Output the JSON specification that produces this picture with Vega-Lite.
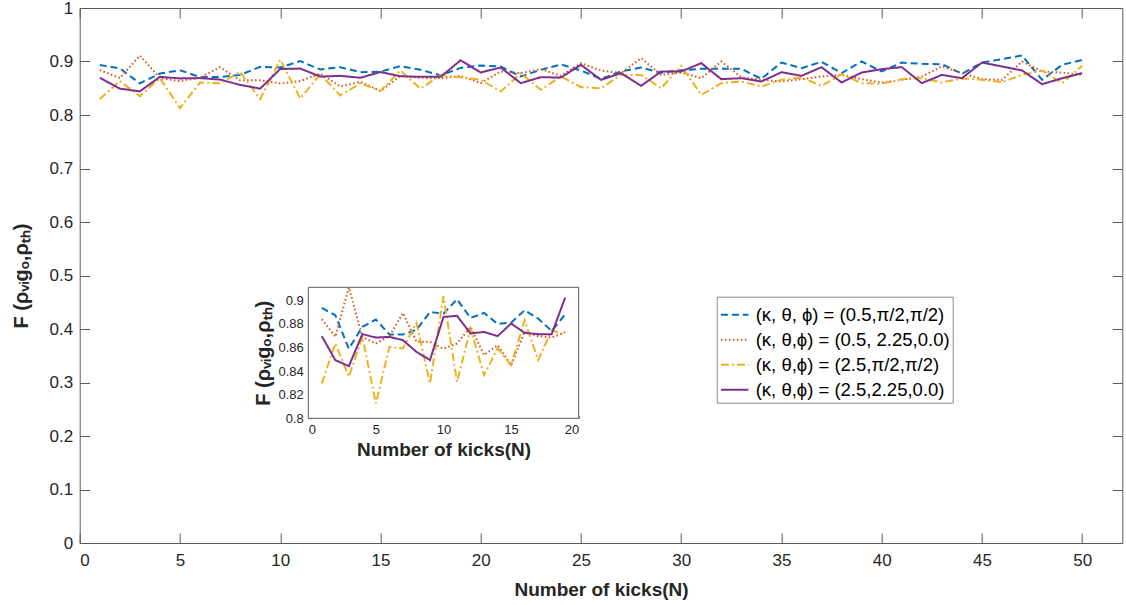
{
  "$schema": "https://vega.github.io/schema/vega-lite/v6.json",
  "width": 1042.6,
  "height": 535,
  "autosize": {"type": "none"},
  "padding": {"left": 79.7, "top": 8, "right": 3.7, "bottom": 62},
  "config": {
    "font": "Liberation Sans",
    "view": {"stroke": "#5a5a5a", "strokeWidth": 1},
    "axis": {"labelColor": "#262626", "titleColor": "#262626", "domainColor": "#5a5a5a", "tickColor": "#5a5a5a", "grid": false, "labelFont": "Liberation Sans", "titleFont": "Liberation Sans"}
  },
  "datasets": {
    "fid": [
      {"N":1,"s":"(κ, θ, ϕ) = (0.5,π/2,π/2)","F":0.8935},{"N":2,"s":"(κ, θ, ϕ) = (0.5,π/2,π/2)","F":0.8873},{"N":3,"s":"(κ, θ, ϕ) = (0.5,π/2,π/2)","F":0.859},{"N":4,"s":"(κ, θ, ϕ) = (0.5,π/2,π/2)","F":0.8775},{"N":5,"s":"(κ, θ, ϕ) = (0.5,π/2,π/2)","F":0.8837},{"N":6,"s":"(κ, θ, ϕ) = (0.5,π/2,π/2)","F":0.871},{"N":7,"s":"(κ, θ, ϕ) = (0.5,π/2,π/2)","F":0.871},{"N":8,"s":"(κ, θ, ϕ) = (0.5,π/2,π/2)","F":0.875},{"N":9,"s":"(κ, θ, ϕ) = (0.5,π/2,π/2)","F":0.89},{"N":10,"s":"(κ, θ, ϕ) = (0.5,π/2,π/2)","F":0.8887},
      {"N":11,"s":"(κ, θ, ϕ) = (0.5,π/2,π/2)","F":0.9008},{"N":12,"s":"(κ, θ, ϕ) = (0.5,π/2,π/2)","F":0.885},{"N":13,"s":"(κ, θ, ϕ) = (0.5,π/2,π/2)","F":0.8893},{"N":14,"s":"(κ, θ, ϕ) = (0.5,π/2,π/2)","F":0.88},{"N":15,"s":"(κ, θ, ϕ) = (0.5,π/2,π/2)","F":0.881},{"N":16,"s":"(κ, θ, ϕ) = (0.5,π/2,π/2)","F":0.8915},{"N":17,"s":"(κ, θ, ϕ) = (0.5,π/2,π/2)","F":0.8845},{"N":18,"s":"(κ, θ, ϕ) = (0.5,π/2,π/2)","F":0.874},{"N":19,"s":"(κ, θ, ϕ) = (0.5,π/2,π/2)","F":0.888},{"N":20,"s":"(κ, θ, ϕ) = (0.5,π/2,π/2)","F":0.8925},
      {"N":21,"s":"(κ, θ, ϕ) = (0.5,π/2,π/2)","F":0.8907},{"N":22,"s":"(κ, θ, ϕ) = (0.5,π/2,π/2)","F":0.872},{"N":23,"s":"(κ, θ, ϕ) = (0.5,π/2,π/2)","F":0.8844},{"N":24,"s":"(κ, θ, ϕ) = (0.5,π/2,π/2)","F":0.8944},{"N":25,"s":"(κ, θ, ϕ) = (0.5,π/2,π/2)","F":0.8832},{"N":26,"s":"(κ, θ, ϕ) = (0.5,π/2,π/2)","F":0.8676},{"N":27,"s":"(κ, θ, ϕ) = (0.5,π/2,π/2)","F":0.8813},{"N":28,"s":"(κ, θ, ϕ) = (0.5,π/2,π/2)","F":0.8888},{"N":29,"s":"(κ, θ, ϕ) = (0.5,π/2,π/2)","F":0.879},{"N":30,"s":"(κ, θ, ϕ) = (0.5,π/2,π/2)","F":0.8838},
      {"N":31,"s":"(κ, θ, ϕ) = (0.5,π/2,π/2)","F":0.8863},{"N":32,"s":"(κ, θ, ϕ) = (0.5,π/2,π/2)","F":0.8863},{"N":33,"s":"(κ, θ, ϕ) = (0.5,π/2,π/2)","F":0.8863},{"N":34,"s":"(κ, θ, ϕ) = (0.5,π/2,π/2)","F":0.8676},{"N":35,"s":"(κ, θ, ϕ) = (0.5,π/2,π/2)","F":0.898},{"N":36,"s":"(κ, θ, ϕ) = (0.5,π/2,π/2)","F":0.8875},{"N":37,"s":"(κ, θ, ϕ) = (0.5,π/2,π/2)","F":0.8994},{"N":38,"s":"(κ, θ, ϕ) = (0.5,π/2,π/2)","F":0.8782},{"N":39,"s":"(κ, θ, ϕ) = (0.5,π/2,π/2)","F":0.9},{"N":40,"s":"(κ, θ, ϕ) = (0.5,π/2,π/2)","F":0.8813},
      {"N":41,"s":"(κ, θ, ϕ) = (0.5,π/2,π/2)","F":0.898},{"N":42,"s":"(κ, θ, ϕ) = (0.5,π/2,π/2)","F":0.8956},{"N":43,"s":"(κ, θ, ϕ) = (0.5,π/2,π/2)","F":0.895},{"N":44,"s":"(κ, θ, ϕ) = (0.5,π/2,π/2)","F":0.877},{"N":45,"s":"(κ, θ, ϕ) = (0.5,π/2,π/2)","F":0.898},{"N":46,"s":"(κ, θ, ϕ) = (0.5,π/2,π/2)","F":0.9044},{"N":47,"s":"(κ, θ, ϕ) = (0.5,π/2,π/2)","F":0.9112},{"N":48,"s":"(κ, θ, ϕ) = (0.5,π/2,π/2)","F":0.8657},{"N":49,"s":"(κ, θ, ϕ) = (0.5,π/2,π/2)","F":0.8938},{"N":50,"s":"(κ, θ, ϕ) = (0.5,π/2,π/2)","F":0.903},

      {"N":1,"s":"(κ, θ,ϕ) = (0.5, 2.25,0.0)","F":0.884},{"N":2,"s":"(κ, θ,ϕ) = (0.5, 2.25,0.0)","F":0.869},{"N":3,"s":"(κ, θ,ϕ) = (0.5, 2.25,0.0)","F":0.911},{"N":4,"s":"(κ, θ,ϕ) = (0.5, 2.25,0.0)","F":0.869},{"N":5,"s":"(κ, θ,ϕ) = (0.5, 2.25,0.0)","F":0.8634},{"N":6,"s":"(κ, θ,ϕ) = (0.5, 2.25,0.0)","F":0.8696},{"N":7,"s":"(κ, θ,ϕ) = (0.5, 2.25,0.0)","F":0.8893},{"N":8,"s":"(κ, θ,ϕ) = (0.5, 2.25,0.0)","F":0.8648},{"N":9,"s":"(κ, θ,ϕ) = (0.5, 2.25,0.0)","F":0.8648},{"N":10,"s":"(κ, θ,ϕ) = (0.5, 2.25,0.0)","F":0.859},
      {"N":11,"s":"(κ, θ,ϕ) = (0.5, 2.25,0.0)","F":0.8634},{"N":12,"s":"(κ, θ,ϕ) = (0.5, 2.25,0.0)","F":0.8775},{"N":13,"s":"(κ, θ,ϕ) = (0.5, 2.25,0.0)","F":0.8535},{"N":14,"s":"(κ, θ,ϕ) = (0.5, 2.25,0.0)","F":0.862},{"N":15,"s":"(κ, θ,ϕ) = (0.5, 2.25,0.0)","F":0.845},{"N":16,"s":"(κ, θ,ϕ) = (0.5, 2.25,0.0)","F":0.8732},{"N":17,"s":"(κ, θ,ϕ) = (0.5, 2.25,0.0)","F":0.8696},{"N":18,"s":"(κ, θ,ϕ) = (0.5, 2.25,0.0)","F":0.8685},{"N":19,"s":"(κ, θ,ϕ) = (0.5, 2.25,0.0)","F":0.873},{"N":20,"s":"(κ, θ,ϕ) = (0.5, 2.25,0.0)","F":0.8595},
      {"N":21,"s":"(κ, θ,ϕ) = (0.5, 2.25,0.0)","F":0.8813},{"N":22,"s":"(κ, θ,ϕ) = (0.5, 2.25,0.0)","F":0.8782},{"N":23,"s":"(κ, θ,ϕ) = (0.5, 2.25,0.0)","F":0.8857},{"N":24,"s":"(κ, θ,ϕ) = (0.5, 2.25,0.0)","F":0.8732},{"N":25,"s":"(κ, θ,ϕ) = (0.5, 2.25,0.0)","F":0.8969},{"N":26,"s":"(κ, θ,ϕ) = (0.5, 2.25,0.0)","F":0.883},{"N":27,"s":"(κ, θ,ϕ) = (0.5, 2.25,0.0)","F":0.8782},{"N":28,"s":"(κ, θ,ϕ) = (0.5, 2.25,0.0)","F":0.9062},{"N":29,"s":"(κ, θ,ϕ) = (0.5, 2.25,0.0)","F":0.875},{"N":30,"s":"(κ, θ,ϕ) = (0.5, 2.25,0.0)","F":0.8794},
      {"N":31,"s":"(κ, θ,ϕ) = (0.5, 2.25,0.0)","F":0.8688},{"N":32,"s":"(κ, θ,ϕ) = (0.5, 2.25,0.0)","F":0.9},{"N":33,"s":"(κ, θ,ϕ) = (0.5, 2.25,0.0)","F":0.8707},{"N":34,"s":"(κ, θ,ϕ) = (0.5, 2.25,0.0)","F":0.8657},{"N":35,"s":"(κ, θ,ϕ) = (0.5, 2.25,0.0)","F":0.8626},{"N":36,"s":"(κ, θ,ϕ) = (0.5, 2.25,0.0)","F":0.867},{"N":37,"s":"(κ, θ,ϕ) = (0.5, 2.25,0.0)","F":0.872},{"N":38,"s":"(κ, θ,ϕ) = (0.5, 2.25,0.0)","F":0.875},{"N":39,"s":"(κ, θ,ϕ) = (0.5, 2.25,0.0)","F":0.867},{"N":40,"s":"(κ, θ,ϕ) = (0.5, 2.25,0.0)","F":0.8607},
      {"N":41,"s":"(κ, θ,ϕ) = (0.5, 2.25,0.0)","F":0.8657},{"N":42,"s":"(κ, θ,ϕ) = (0.5, 2.25,0.0)","F":0.872},{"N":43,"s":"(κ, θ,ϕ) = (0.5, 2.25,0.0)","F":0.8907},{"N":44,"s":"(κ, θ,ϕ) = (0.5, 2.25,0.0)","F":0.8782},{"N":45,"s":"(κ, θ,ϕ) = (0.5, 2.25,0.0)","F":0.867},{"N":46,"s":"(κ, θ,ϕ) = (0.5, 2.25,0.0)","F":0.8657},{"N":47,"s":"(κ, θ,ϕ) = (0.5, 2.25,0.0)","F":0.9},{"N":48,"s":"(κ, θ,ϕ) = (0.5, 2.25,0.0)","F":0.8813},{"N":49,"s":"(κ, θ,ϕ) = (0.5, 2.25,0.0)","F":0.8794},{"N":50,"s":"(κ, θ,ϕ) = (0.5, 2.25,0.0)","F":0.875},

      {"N":1,"s":"(κ, θ,ϕ) = (2.5,π/2,π/2)","F":0.8296},{"N":2,"s":"(κ, θ,ϕ) = (2.5,π/2,π/2)","F":0.8634},{"N":3,"s":"(κ, θ,ϕ) = (2.5,π/2,π/2)","F":0.8352},{"N":4,"s":"(κ, θ,ϕ) = (2.5,π/2,π/2)","F":0.869},{"N":5,"s":"(κ, θ,ϕ) = (2.5,π/2,π/2)","F":0.8127},{"N":6,"s":"(κ, θ,ϕ) = (2.5,π/2,π/2)","F":0.8606},{"N":7,"s":"(κ, θ,ϕ) = (2.5,π/2,π/2)","F":0.8592},{"N":8,"s":"(κ, θ,ϕ) = (2.5,π/2,π/2)","F":0.8808},{"N":9,"s":"(κ, θ,ϕ) = (2.5,π/2,π/2)","F":0.8296},{"N":10,"s":"(κ, θ,ϕ) = (2.5,π/2,π/2)","F":0.9034},
      {"N":11,"s":"(κ, θ,ϕ) = (2.5,π/2,π/2)","F":0.831},{"N":12,"s":"(κ, θ,ϕ) = (2.5,π/2,π/2)","F":0.876},{"N":13,"s":"(κ, θ,ϕ) = (2.5,π/2,π/2)","F":0.8366},{"N":14,"s":"(κ, θ,ϕ) = (2.5,π/2,π/2)","F":0.8592},{"N":15,"s":"(κ, θ,ϕ) = (2.5,π/2,π/2)","F":0.845},{"N":16,"s":"(κ, θ,ϕ) = (2.5,π/2,π/2)","F":0.883},{"N":17,"s":"(κ, θ,ϕ) = (2.5,π/2,π/2)","F":0.8493},{"N":18,"s":"(κ, θ,ϕ) = (2.5,π/2,π/2)","F":0.8746},{"N":19,"s":"(κ, θ,ϕ) = (2.5,π/2,π/2)","F":0.8704},{"N":20,"s":"(κ, θ,ϕ) = (2.5,π/2,π/2)","F":0.8657},
      {"N":21,"s":"(κ, θ,ϕ) = (2.5,π/2,π/2)","F":0.844},{"N":22,"s":"(κ, θ,ϕ) = (2.5,π/2,π/2)","F":0.878},{"N":23,"s":"(κ, θ,ϕ) = (2.5,π/2,π/2)","F":0.847},{"N":24,"s":"(κ, θ,ϕ) = (2.5,π/2,π/2)","F":0.872},{"N":25,"s":"(κ, θ,ϕ) = (2.5,π/2,π/2)","F":0.852},{"N":26,"s":"(κ, θ,ϕ) = (2.5,π/2,π/2)","F":0.85},{"N":27,"s":"(κ, θ,ϕ) = (2.5,π/2,π/2)","F":0.875},{"N":28,"s":"(κ, θ,ϕ) = (2.5,π/2,π/2)","F":0.875},{"N":29,"s":"(κ, θ,ϕ) = (2.5,π/2,π/2)","F":0.85},{"N":30,"s":"(κ, θ,ϕ) = (2.5,π/2,π/2)","F":0.892},
      {"N":31,"s":"(κ, θ,ϕ) = (2.5,π/2,π/2)","F":0.8377},{"N":32,"s":"(κ, θ,ϕ) = (2.5,π/2,π/2)","F":0.8595},{"N":33,"s":"(κ, θ,ϕ) = (2.5,π/2,π/2)","F":0.8626},{"N":34,"s":"(κ, θ,ϕ) = (2.5,π/2,π/2)","F":0.8533},{"N":35,"s":"(κ, θ,ϕ) = (2.5,π/2,π/2)","F":0.8657},{"N":36,"s":"(κ, θ,ϕ) = (2.5,π/2,π/2)","F":0.87},{"N":37,"s":"(κ, θ,ϕ) = (2.5,π/2,π/2)","F":0.8545},{"N":38,"s":"(κ, θ,ϕ) = (2.5,π/2,π/2)","F":0.8763},{"N":39,"s":"(κ, θ,ϕ) = (2.5,π/2,π/2)","F":0.8595},{"N":40,"s":"(κ, θ,ϕ) = (2.5,π/2,π/2)","F":0.8583},
      {"N":41,"s":"(κ, θ,ϕ) = (2.5,π/2,π/2)","F":0.867},{"N":42,"s":"(κ, θ,ϕ) = (2.5,π/2,π/2)","F":0.8688},{"N":43,"s":"(κ, θ,ϕ) = (2.5,π/2,π/2)","F":0.8607},{"N":44,"s":"(κ, θ,ϕ) = (2.5,π/2,π/2)","F":0.8682},{"N":45,"s":"(κ, θ,ϕ) = (2.5,π/2,π/2)","F":0.8657},{"N":46,"s":"(κ, θ,ϕ) = (2.5,π/2,π/2)","F":0.8614},{"N":47,"s":"(κ, θ,ϕ) = (2.5,π/2,π/2)","F":0.875},{"N":48,"s":"(κ, θ,ϕ) = (2.5,π/2,π/2)","F":0.8832},{"N":49,"s":"(κ, θ,ϕ) = (2.5,π/2,π/2)","F":0.8595},{"N":50,"s":"(κ, θ,ϕ) = (2.5,π/2,π/2)","F":0.892},

      {"N":1,"s":"(κ, θ,ϕ) = (2.5,2.25,0.0)","F":0.8696},{"N":2,"s":"(κ, θ,ϕ) = (2.5,2.25,0.0)","F":0.8493},{"N":3,"s":"(κ, θ,ϕ) = (2.5,2.25,0.0)","F":0.8442},{"N":4,"s":"(κ, θ,ϕ) = (2.5,2.25,0.0)","F":0.8713},{"N":5,"s":"(κ, θ,ϕ) = (2.5,2.25,0.0)","F":0.8684},{"N":6,"s":"(κ, θ,ϕ) = (2.5,2.25,0.0)","F":0.869},{"N":7,"s":"(κ, θ,ϕ) = (2.5,2.25,0.0)","F":0.8662},{"N":8,"s":"(κ, θ,ϕ) = (2.5,2.25,0.0)","F":0.8563},{"N":9,"s":"(κ, θ,ϕ) = (2.5,2.25,0.0)","F":0.8493},{"N":10,"s":"(κ, θ,ϕ) = (2.5,2.25,0.0)","F":0.8859},
      {"N":11,"s":"(κ, θ,ϕ) = (2.5,2.25,0.0)","F":0.8868},{"N":12,"s":"(κ, θ,ϕ) = (2.5,2.25,0.0)","F":0.8718},{"N":13,"s":"(κ, θ,ϕ) = (2.5,2.25,0.0)","F":0.8732},{"N":14,"s":"(κ, θ,ϕ) = (2.5,2.25,0.0)","F":0.8696},{"N":15,"s":"(κ, θ,ϕ) = (2.5,2.25,0.0)","F":0.8803},{"N":16,"s":"(κ, θ,ϕ) = (2.5,2.25,0.0)","F":0.8724},{"N":17,"s":"(κ, θ,ϕ) = (2.5,2.25,0.0)","F":0.8713},{"N":18,"s":"(κ, θ,ϕ) = (2.5,2.25,0.0)","F":0.8713},{"N":19,"s":"(κ, θ,ϕ) = (2.5,2.25,0.0)","F":0.9023},{"N":20,"s":"(κ, θ,ϕ) = (2.5,2.25,0.0)","F":0.8794},
      {"N":21,"s":"(κ, θ,ϕ) = (2.5,2.25,0.0)","F":0.8888},{"N":22,"s":"(κ, θ,ϕ) = (2.5,2.25,0.0)","F":0.8595},{"N":23,"s":"(κ, θ,ϕ) = (2.5,2.25,0.0)","F":0.8707},{"N":24,"s":"(κ, θ,ϕ) = (2.5,2.25,0.0)","F":0.87},{"N":25,"s":"(κ, θ,ϕ) = (2.5,2.25,0.0)","F":0.8938},{"N":26,"s":"(κ, θ,ϕ) = (2.5,2.25,0.0)","F":0.8657},{"N":27,"s":"(κ, θ,ϕ) = (2.5,2.25,0.0)","F":0.8782},{"N":28,"s":"(κ, θ,ϕ) = (2.5,2.25,0.0)","F":0.8545},{"N":29,"s":"(κ, θ,ϕ) = (2.5,2.25,0.0)","F":0.8813},{"N":30,"s":"(κ, θ,ϕ) = (2.5,2.25,0.0)","F":0.8813},
      {"N":31,"s":"(κ, θ,ϕ) = (2.5,2.25,0.0)","F":0.8969},{"N":32,"s":"(κ, θ,ϕ) = (2.5,2.25,0.0)","F":0.867},{"N":33,"s":"(κ, θ,ϕ) = (2.5,2.25,0.0)","F":0.8688},{"N":34,"s":"(κ, θ,ϕ) = (2.5,2.25,0.0)","F":0.8626},{"N":35,"s":"(κ, θ,ϕ) = (2.5,2.25,0.0)","F":0.88},{"N":36,"s":"(κ, θ,ϕ) = (2.5,2.25,0.0)","F":0.8732},{"N":37,"s":"(κ, θ,ϕ) = (2.5,2.25,0.0)","F":0.8894},{"N":38,"s":"(κ, θ,ϕ) = (2.5,2.25,0.0)","F":0.8607},{"N":39,"s":"(κ, θ,ϕ) = (2.5,2.25,0.0)","F":0.8794},{"N":40,"s":"(κ, θ,ϕ) = (2.5,2.25,0.0)","F":0.8857},
      {"N":41,"s":"(κ, θ,ϕ) = (2.5,2.25,0.0)","F":0.8894},{"N":42,"s":"(κ, θ,ϕ) = (2.5,2.25,0.0)","F":0.8595},{"N":43,"s":"(κ, θ,ϕ) = (2.5,2.25,0.0)","F":0.875},{"N":44,"s":"(κ, θ,ϕ) = (2.5,2.25,0.0)","F":0.8688},{"N":45,"s":"(κ, θ,ϕ) = (2.5,2.25,0.0)","F":0.898},{"N":46,"s":"(κ, θ,ϕ) = (2.5,2.25,0.0)","F":0.8907},{"N":47,"s":"(κ, θ,ϕ) = (2.5,2.25,0.0)","F":0.8832},{"N":48,"s":"(κ, θ,ϕ) = (2.5,2.25,0.0)","F":0.8576},{"N":49,"s":"(κ, θ,ϕ) = (2.5,2.25,0.0)","F":0.8688},{"N":50,"s":"(κ, θ,ϕ) = (2.5,2.25,0.0)","F":0.8782}
    ],
    "insetbox": [{"x0": 0, "x1": 20, "y0": 0.8, "y1": 0.911}]
  },
  "layer": [
    {
      "layer": [
        {
          "data": {"name": "fid"},
          "mark": {"type": "line", "strokeWidth": 2},
          "encoding": {
            "x": {"field": "N", "type": "quantitative", "scale": {"domain": [0, 52], "nice": false, "zero": false},
                  "axis": {"orient": "bottom", "values": [0,5,10,15,20,25,30,35,40,45,50], "tickSize": -10, "labelPadding": 19, "labelFontSize": 17, "title": "Number of kicks(N)", "titleFontSize": 19, "titleFontWeight": "bold", "titlePadding": 12, "domain": false}},
            "y": {"field": "F", "type": "quantitative", "scale": {"domain": [0, 1], "nice": false, "zero": false},
                  "axis": {"orient": "left", "values": [0,0.1,0.2,0.3,0.4,0.5,0.6,0.7,0.8,0.9,1], "format": ".1~f", "tickSize": -10, "labelPadding": 17, "labelFontSize": 17, "title": "F (ρᵥᵢgₒ,ρₜₕ)", "titleFontSize": 20, "titleFontWeight": "bold", "titlePadding": 18, "domain": false}},
            "color": {"field": "s", "type": "nominal",
                      "scale": {"domain": ["(κ, θ, ϕ) = (0.5,π/2,π/2)", "(κ, θ,ϕ) = (0.5, 2.25,0.0)", "(κ, θ,ϕ) = (2.5,π/2,π/2)", "(κ, θ,ϕ) = (2.5,2.25,0.0)"], "range": ["#0072BD", "#D95319", "#EDB120", "#7E2F8E"]},
                      "legend": {"orient": "none", "legendX": 637, "legendY": 288.7, "title": null, "fillColor": "white", "strokeColor": "#8c8c8c", "padding": 3, "labelFontSize": 18.5, "labelFont": "Liberation Sans", "labelColor": "#000000", "labelLimit": 400, "symbolType": "stroke", "symbolSize": 760, "symbolStrokeWidth": 2, "rowPadding": -2.5, "labelOffset": 6, "cornerRadius": 0}},
            "strokeDash": {"field": "s", "type": "nominal",
                           "scale": {"domain": ["(κ, θ, ϕ) = (0.5,π/2,π/2)", "(κ, θ,ϕ) = (0.5, 2.25,0.0)", "(κ, θ,ϕ) = (2.5,π/2,π/2)", "(κ, θ,ϕ) = (2.5,2.25,0.0)"], "range": [[7, 4], [1.5, 2.5], [8, 3, 2, 3], [1, 0]]},
                           "legend": {"orient": "none", "legendX": 637, "legendY": 288.7, "title": null, "fillColor": "white", "strokeColor": "#8c8c8c", "padding": 3, "labelFontSize": 18.5, "labelFont": "Liberation Sans", "labelColor": "#000000", "labelLimit": 400, "symbolType": "stroke", "symbolSize": 760, "symbolStrokeWidth": 2, "rowPadding": -2.5, "labelOffset": 6, "cornerRadius": 0}}
          }
        },
        {
          "data": {"name": "fid"},
          "mark": {"type": "point", "opacity": 0},
          "encoding": {
            "x": {"field": "N", "type": "quantitative", "scale": {"domain": [0, 52], "nice": false, "zero": false},
                  "axis": {"orient": "top", "values": [0,5,10,15,20,25,30,35,40,45,50], "tickSize": -10, "labels": false, "title": null, "domain": false}},
            "y": {"field": "F", "type": "quantitative", "scale": {"domain": [0, 1], "nice": false, "zero": false},
                  "axis": {"orient": "right", "values": [0,0.1,0.2,0.3,0.4,0.5,0.6,0.7,0.8,0.9,1], "tickSize": -10, "labels": false, "title": null, "domain": false}}
          }
        }
      ],
      "resolve": {"axis": {"x": "independent", "y": "independent"}}
    },
    {
      "layer": [
        {
          "data": {"name": "insetbox"},
          "mark": {"type": "rect", "fill": "white", "stroke": "#5a5a5a", "strokeWidth": 1},
          "encoding": {
            "x": {"field": "x0", "type": "quantitative", "scale": {"domain": [0, 20], "range": [228.6, 499], "nice": false, "zero": false},
                  "axis": {"orient": "bottom", "offset": -124.7, "values": [0,5,10,15,20], "tickSize": -3, "labelPadding": 8, "labelFontSize": 13, "title": "Number of kicks(N)", "titleFontSize": 19, "titleFontWeight": "bold", "titlePadding": 4, "domain": false}},
            "x2": {"field": "x1"},
            "y": {"field": "y0", "type": "quantitative", "scale": {"domain": [0.8, 0.911], "range": [410.3, 279.3], "nice": false, "zero": false},
                  "axis": {"orient": "left", "offset": -228.6, "values": [0.8,0.82,0.84,0.86,0.88,0.9], "format": ".2~f", "tickSize": -3, "labelPadding": 8, "labelFontSize": 13, "title": "F (ρᵥᵢgₒ,ρₜₕ)", "titleFontSize": 20, "titleFontWeight": "bold", "titlePadding": 4, "domain": false}},
            "y2": {"field": "y1"}
          }
        },
        {
          "data": {"name": "fid"},
          "transform": [{"filter": "datum.N <= 19"}],
          "mark": {"type": "line", "strokeWidth": 2},
          "encoding": {
            "x": {"field": "N", "type": "quantitative", "scale": {"domain": [0, 20], "range": [228.6, 499], "nice": false, "zero": false},
                  "axis": {"orient": "bottom", "offset": -124.7, "values": [0,5,10,15,20], "tickSize": -3, "labelPadding": 8, "labelFontSize": 13, "title": "Number of kicks(N)", "titleFontSize": 19, "titleFontWeight": "bold", "titlePadding": 4, "domain": false}},
            "y": {"field": "F", "type": "quantitative", "scale": {"domain": [0.8, 0.911], "range": [410.3, 279.3], "nice": false, "zero": false},
                  "axis": {"orient": "left", "offset": -228.6, "values": [0.8,0.82,0.84,0.86,0.88,0.9], "format": ".2~f", "tickSize": -3, "labelPadding": 8, "labelFontSize": 13, "title": "F (ρᵥᵢgₒ,ρₜₕ)", "titleFontSize": 20, "titleFontWeight": "bold", "titlePadding": 4, "domain": false}},
            "color": {"field": "s", "type": "nominal"},
            "strokeDash": {"field": "s", "type": "nominal"}
          }
        }
      ]
    }
  ],
  "resolve": {"scale": {"x": "independent", "y": "independent"}}
}
